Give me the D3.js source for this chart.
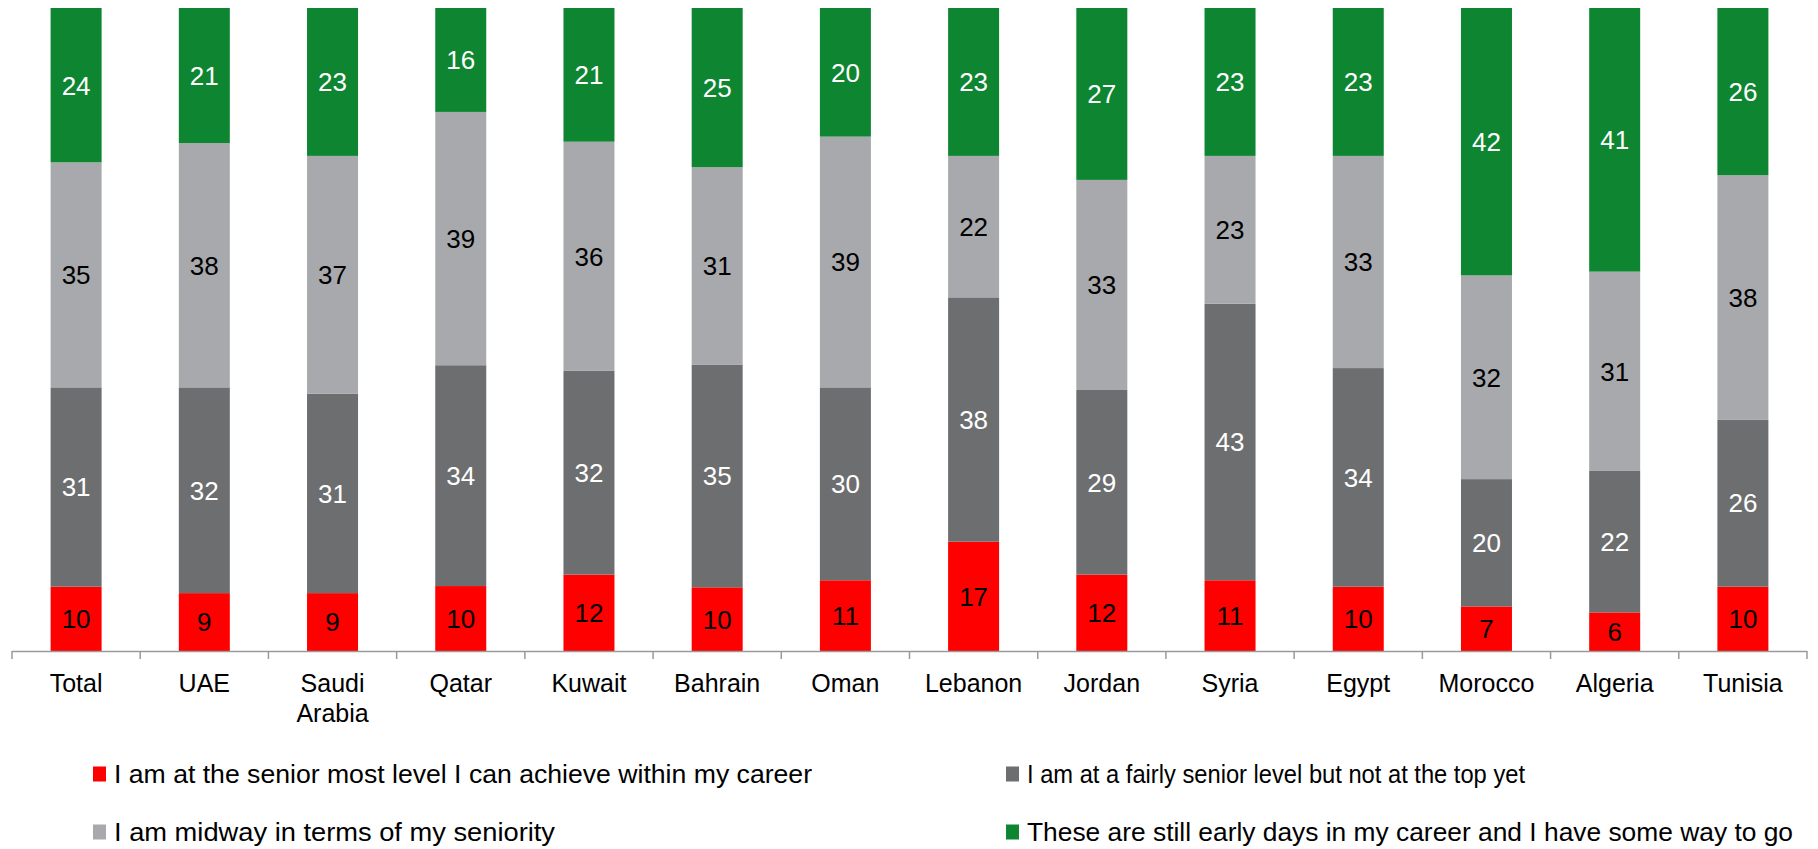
<!DOCTYPE html>
<html>
<head>
<meta charset="utf-8">
<script src="https://cdn.jsdelivr.net/npm/d3@7/dist/d3.min.js"></script>
<style>
  html, body { margin: 0; padding: 0; background: #ffffff; }
  svg { display: block; font-family: "Liberation Sans", Arial, sans-serif; }
</style>
</head>
<body>
<svg id="chart" width="1818" height="849"></svg>
<script>
// Survey: self-assessed career seniority by country (%)
const categories = ["Total", "UAE", "Saudi Arabia", "Qatar", "Kuwait", "Bahrain", "Oman",
  "Lebanon", "Jordan", "Syria", "Egypt", "Morocco", "Algeria", "Tunisia"];

const seriesNames = [
  "I am at the senior most level I can achieve within my career",
  "I am at a fairly senior level but not at the top yet",
  "I am midway in terms of my seniority",
  "These are still early days in my career and I have some way to go"
];

const seniorMost  = [10, 9, 9, 10, 12, 10, 11, 17, 12, 11, 10, 7, 6, 10];
const fairlySenior = [31, 32, 31, 34, 32, 35, 30, 38, 29, 43, 34, 20, 22, 26];
const midway      = [35, 38, 37, 39, 36, 31, 39, 22, 33, 23, 33, 32, 31, 38];
const earlyDays   = [24, 21, 23, 16, 21, 25, 20, 23, 27, 23, 23, 42, 41, 26];

const seriesValues = [seniorMost, fairlySenior, midway, earlyDays];
const colors = ["#ff0000", "#6d6e70", "#a8a9ac", "#0e8531"];
const labelColors = ["#000000", "#ffffff", "#000000", "#ffffff"];

// rows for d3.stack
const keys = ["s0", "s1", "s2", "s3"];
const rows = categories.map((c, i) => {
  const r = { category: c };
  keys.forEach((k, j) => { r[k] = seriesValues[j][i]; });
  return r;
});

const svg = d3.select("#chart");

const plot = { left: 12, right: 1807, top: 8, bottom: 651 };

const x = d3.scaleBand()
  .domain(categories)
  .range([plot.left, plot.right])
  .paddingInner(0)
  .paddingOuter(0);

const y = d3.scaleLinear()
  .domain([0, 1])
  .range([plot.bottom, plot.top]);

const stack = d3.stack().keys(keys).offset(d3.stackOffsetExpand);
const layers = stack(rows);

const barWidth = 51;

const g = svg.append("g");

layers.forEach((layer, li) => {
  const lg = g.append("g");
  lg.selectAll("rect")
    .data(layer)
    .join("rect")
    .attr("x", d => x(d.data.category) + x.bandwidth() / 2 - barWidth / 2)
    .attr("width", barWidth)
    .attr("y", d => y(d[1]))
    .attr("height", d => y(d[0]) - y(d[1]))
    .attr("fill", colors[li]);

  lg.selectAll("text")
    .data(layer)
    .join("text")
    .attr("x", d => x(d.data.category) + x.bandwidth() / 2)
    .attr("y", d => (y(d[0]) + y(d[1])) / 2)
    .attr("dy", "0.36em")
    .attr("text-anchor", "middle")
    .attr("font-size", 26)
    .attr("fill", labelColors[li])
    .text(d => d.data[keys[li]]);
});

// category axis with ticks between categories
const axisG = svg.append("g");
axisG.append("line")
  .attr("x1", plot.left).attr("x2", plot.right)
  .attr("y1", plot.bottom + 0.5).attr("y2", plot.bottom + 0.5)
  .attr("stroke", "#9a9a9a").attr("stroke-width", 1.5);

const boundaries = categories.map(c => x(c)).concat([plot.right]);
axisG.selectAll("line.tick")
  .data(boundaries)
  .join("line")
  .attr("class", "tick")
  .attr("x1", d => d).attr("x2", d => d)
  .attr("y1", plot.bottom).attr("y2", plot.bottom + 8)
  .attr("stroke", "#9a9a9a").attr("stroke-width", 1.5);

const catLabels = axisG.selectAll("text")
  .data(categories)
  .join("text")
  .attr("x", d => x(d) + x.bandwidth() / 2)
  .attr("y", 692)
  .attr("text-anchor", "middle")
  .attr("font-size", 25)
  .attr("fill", "#000");

catLabels.each(function(d) {
  const parts = d === "Saudi Arabia" ? ["Saudi", "Arabia"] : [d];
  const t = d3.select(this);
  parts.forEach((p, i) => {
    t.append("tspan")
      .attr("x", x(d) + x.bandwidth() / 2)
      .attr("dy", i === 0 ? 0 : 30)
      .text(p);
  });
});

// legend, two columns
const legendPos = [
  { sx: 93, ty: 774, tx: 114, w: 698 },
  { sx: 1006, ty: 774, tx: 1027, w: 498 },
  { sx: 93, ty: 832, tx: 114, w: 441 },
  { sx: 1006, ty: 832, tx: 1027, w: 766 }
];

const legend = svg.append("g");
seriesNames.forEach((name, i) => {
  const p = legendPos[i];
  legend.append("rect")
    .attr("x", p.sx).attr("y", p.ty - 7.5)
    .attr("width", 13).attr("height", 15)
    .attr("fill", colors[i]);
  legend.append("text")
    .attr("x", p.tx).attr("y", p.ty)
    .attr("dy", "0.36em")
    .attr("font-size", 25)
    .attr("fill", "#000")
    .attr("textLength", p.w)
    .attr("lengthAdjust", "spacingAndGlyphs")
    .text(name);
});
</script>
</body>
</html>
